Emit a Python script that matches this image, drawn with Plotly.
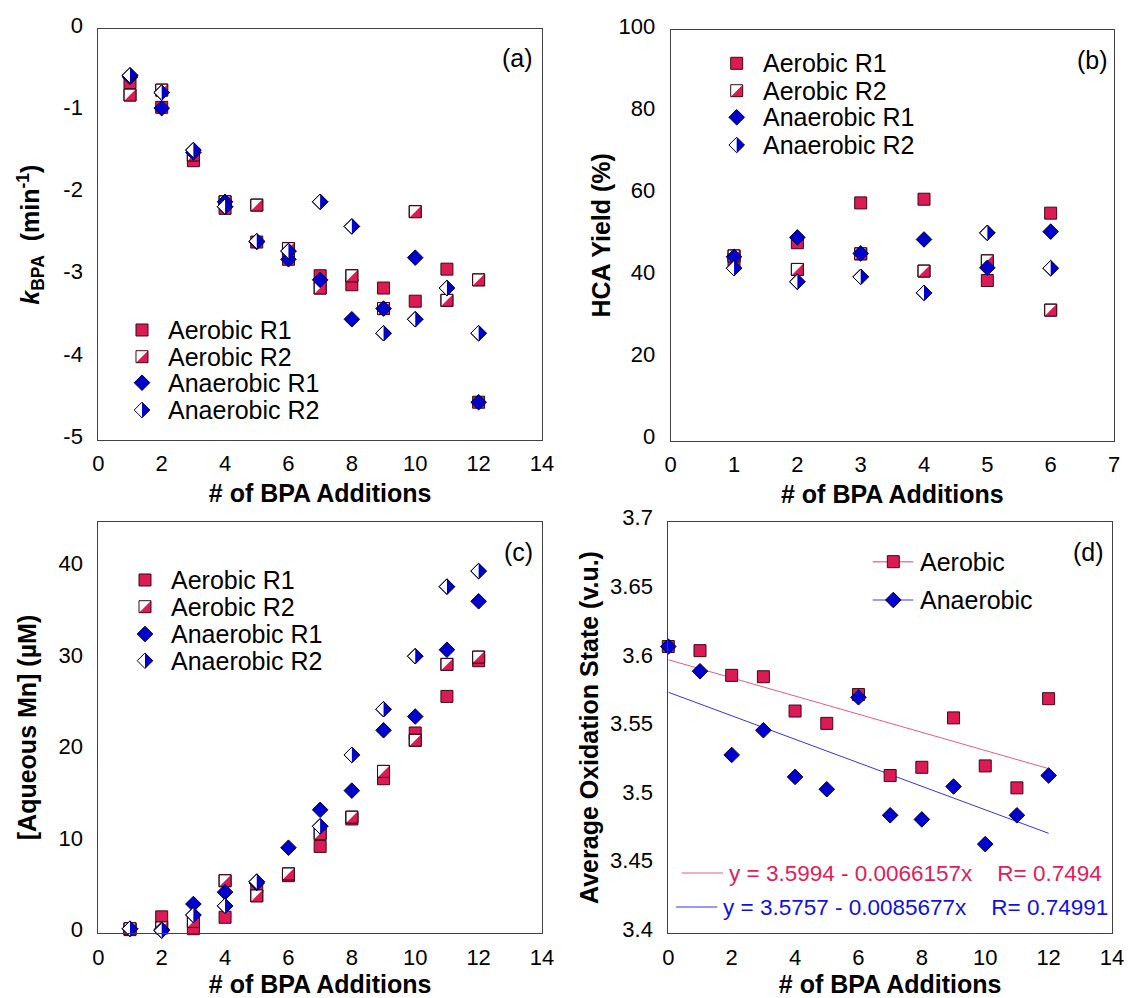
import numpy as np
import plotly.graph_objects as go

W, H = 1128, 998

# ---------------- data ----------------
additions = list(range(1, 13))
additions_hca = list(range(1, 7))
additions_aos = list(range(0, 13))

# (a) BPA rate constants
k_aer_r1 = [-0.65, -0.95, -1.60, -2.18, -2.59, -2.80, -3.00, -3.11, -3.15, -3.31, -2.92, -4.54]
k_aer_r2 = [-0.80, -0.74, -1.53, -2.10, -2.14, -2.67, -3.15, -3.00, -3.40, -2.22, -3.30, -3.05]
k_ana_r1 = [-0.58, -0.96, -1.50, -2.10, -2.59, -2.80, -3.05, -3.53, -3.40, -2.78, None, -4.54]
k_ana_r2 = [-0.56, -0.77, -1.47, -2.16, -2.58, -2.70, -2.10, -2.40, -3.70, -3.53, -3.15, -3.70]

# (b) HCA yield (%)
hca_aer_r1 = [44.0, 48.2, 57.9, 58.8, 39.0, 55.4]
hca_aer_r2 = [45.0, 41.7, 45.5, 41.3, 43.8, 31.8]
hca_ana_r1 = [44.8, 49.5, 45.6, 49.0, 42.1, 50.9]
hca_ana_r2 = [42.0, 38.7, 39.9, 36.0, 50.6, 42.0]

# (c) aqueous Mn (uM)
mn_aer_r1 = [0.4, 1.8, 0.5, 1.75, 5.1, 6.3, 9.5, 12.5, 16.9, 21.9, 25.9, 29.8]
mn_aer_r2 = [0.5, 0.6, 1.3, 5.75, 4.1, 6.5, 10.9, 12.7, 17.7, 21.1, 29.4, 30.2]
mn_ana_r1 = [0.5, 0.4, 3.2, 4.5, 5.5, 9.36, 13.5, 15.6, 22.2, 23.7, 31.0, 36.3]
mn_ana_r2 = [0.5, 0.3, 2.0, 3.0, 5.65, None, 11.7, 19.5, 24.5, 30.3, 37.9, 39.6]

# (d) average Mn oxidation state
aos_aer = [3.609, 3.606, 3.588, 3.587, 3.562, 3.553, 3.574, 3.515, 3.521, 3.557, 3.522, 3.506, 3.571]
aos_ana = [3.609, 3.591, 3.530, 3.548, 3.514, 3.505, 3.572, 3.486, 3.483, 3.507, 3.465, 3.486, 3.515]

# linear fits: intercept, slope, R
fit_aer = (3.5994, -0.0066157, 0.7494)
fit_ana = (3.5757, -0.0085677, 0.74991)

series_names = ["Aerobic R1", "Aerobic R2", "Anaerobic R1", "Anaerobic R2"]
aos_names = ["Aerobic", "Anaerobic"]

# tick labels
ticks_x14 = [0, 2, 4, 6, 8, 10, 12, 14]
ticks_x7 = [0, 1, 2, 3, 4, 5, 6, 7]
ticks_k = [0, -1, -2, -3, -4, -5]
ticks_hca = [0, 20, 40, 60, 80, 100]
ticks_mn = [0, 10, 20, 30, 40]
ticks_aos = [3.4, 3.45, 3.5, 3.55, 3.6, 3.65, 3.7]
ticks_aos_text = ["3.4", "3.45", "3.5", "3.55", "3.6", "3.65", "3.7"]

# ---------------- style ----------------
FONT = "Liberation Sans, Arial, sans-serif"
CRIMSON = "#DC1A55"
BLUE = "#0000CC"
SQ_EDGE = "#3A0A16"
DI_EDGE = "#000040"
FRAME = "#404040"
FIT_AER = "#EA5A82"
FIT_ANA = "#3434E8"
SQ = 12          # square marker size (px)
DI = 12          # diamond marker size (px)

# panel boxes in pixels: (left, right), (top, bottom)
panels = [
    dict(xpx=(98.3, 542.0), ypx=(29.3, 440.0), xr=[0, 14], yr=[-5, 0],
         xt=ticks_x14, yt=ticks_k, ytext=[str(v) for v in ticks_k], ystand=16,
         ytitle="<b><i>k</i><sub>BPA</sub>\u00a0\u00a0(min<sup>-1</sup>)</b>"),
    dict(xpx=(670.7, 1114.0), ypx=(30.0, 440.7), xr=[0, 7], yr=[0, 100],
         xt=ticks_x7, yt=ticks_hca, ytext=[str(v) for v in ticks_hca], ystand=0,
         ytitle="<b>HCA Yield (%)</b>"),
    dict(xpx=(98.3, 542.0), ypx=(521.7, 933.3), xr=[0, 14], yr=[0, 45],
         xt=ticks_x14, yt=ticks_mn, ytext=[str(v) for v in ticks_mn], ystand=14,
         ytitle="<b>[Aqueous Mn] (µM)</b>"),
    dict(xpx=(668.3, 1112.0), ypx=(521.7, 933.3), xr=[0, 14], yr=[3.4, 3.7],
         xt=ticks_x14, yt=ticks_aos, ytext=ticks_aos_text, ystand=4,
         ytitle="<b>Average Oxidation State (v.u.)</b>"),
]

fig = go.Figure()
layout = dict(
    template="none",
    width=W, height=H, margin=dict(l=0, r=0, t=0, b=0, pad=0),
    paper_bgcolor="white", plot_bgcolor="white", showlegend=False,
    font=dict(family=FONT, color="black"),
)

for i, p in enumerate(panels):
    n = "" if i == 0 else str(i + 1)
    p["xa"], p["ya"] = "x" + n, "y" + n
    p["ux"] = (p["xpx"][1] - p["xpx"][0]) / (p["xr"][1] - p["xr"][0])
    p["uy"] = (p["ypx"][1] - p["ypx"][0]) / (p["yr"][1] - p["yr"][0])
    common = dict(showline=True, mirror=True, linecolor=FRAME, linewidth=1,
                  showgrid=False, zeroline=False, ticks="", automargin=False,
                  tickfont=dict(family=FONT, size=22, color="black"))
    layout["xaxis" + n] = dict(
        domain=[p["xpx"][0] / W, p["xpx"][1] / W], anchor=p["ya"], range=p["xr"],
        tickmode="array", tickvals=p["xt"], ticktext=[str(v) for v in p["xt"]],
        ticklabelstandoff=4,
        title=dict(text="<b># of BPA Additions</b>", font=dict(size=25), standoff=9),
        **common)
    layout["yaxis" + n] = dict(
        domain=[1 - p["ypx"][1] / H, 1 - p["ypx"][0] / H], anchor=p["xa"], range=p["yr"],
        tickmode="array", tickvals=p["yt"], ticktext=p["ytext"],
        ticklabelstandoff=10, ticklabelshift=-4,
        title=dict(text=p["ytitle"], font=dict(size=25), standoff=p["ystand"]),
        **common)


def scatter(p, xs, ys, **marker):
    fig.add_trace(go.Scatter(x=xs, y=ys, mode="markers", marker=marker,
                             xaxis=p["xa"], yaxis=p["ya"], cliponaxis=False,
                             hoverinfo="skip"))


def solid_squares(p, xs, ys):
    scatter(p, xs, ys, symbol="square", size=SQ, color=CRIMSON,
            line=dict(color=SQ_EDGE, width=1))


def solid_diamonds(p, xs, ys):
    scatter(p, xs, ys, symbol="diamond", size=DI, color=BLUE,
            line=dict(color=DI_EDGE, width=1))


def half_squares(p, xs, ys):
    # white square, crimson lower-right triangle, outline on top
    xs = np.asarray(xs, float)
    ys = np.array([np.nan if v is None else v for v in ys], float)
    scatter(p, xs, ys, symbol="square", size=SQ, color="white",
            line=dict(color=SQ_EDGE, width=1))
    off = SQ / 6.0
    scatter(p, xs + off / p["ux"], ys - off / p["uy"], symbol="triangle-se",
            size=SQ / 0.9, color=CRIMSON, line=dict(width=0))
    scatter(p, xs, ys, symbol="square-open", size=SQ, color=SQ_EDGE,
            line=dict(color=SQ_EDGE, width=1))


def half_diamonds(p, xs, ys):
    # white diamond, blue right half, outline on top
    xs = np.asarray(xs, float)
    ys = np.array([np.nan if v is None else v for v in ys], float)
    scatter(p, xs, ys, symbol="diamond", size=DI, color="white",
            line=dict(color=DI_EDGE, width=1))
    rd = 0.65 * DI
    scatter(p, xs + (rd / 3.0) / p["ux"], ys, symbol="triangle-ne", angle=45,
            size=rd * np.sqrt(2) / 0.9, color=BLUE, line=dict(width=0))
    scatter(p, xs, ys, symbol="diamond-open", size=DI, color=DI_EDGE,
            line=dict(color=DI_EDGE, width=1))


pa, pb, pc, pd = panels

for p, xs, r1a, r2a, r1n, r2n in [
    (pa, additions, k_aer_r1, k_aer_r2, k_ana_r1, k_ana_r2),
    (pb, additions_hca, hca_aer_r1, hca_aer_r2, hca_ana_r1, hca_ana_r2),
    (pc, additions, mn_aer_r1, mn_aer_r2, mn_ana_r1, mn_ana_r2),
]:
    solid_squares(p, xs, r1a)
    half_squares(p, xs, r2a)
    solid_diamonds(p, xs, r1n)
    half_diamonds(p, xs, r2n)

# (d) fit lines then points
xfit = np.array(additions_aos, float)
for (b0, b1, _), col in [(fit_aer, FIT_AER), (fit_ana, FIT_ANA)]:
    fig.add_trace(go.Scatter(x=xfit, y=b0 + b1 * xfit, mode="lines",
                             line=dict(color=col, width=1), xaxis=pd["xa"], yaxis=pd["ya"],
                             hoverinfo="skip"))
solid_squares(pd, additions_aos, aos_aer)
solid_diamonds(pd, additions_aos, aos_ana)

# ---------------- legends and labels (page pixels) ----------------
shapes, annotations = [], []


def P(x, y):
    return x / W, 1 - y / H


def poly(pts, fill, line_col=None, lw=0):
    d = "M" + "L".join("%.6f,%.6f" % P(x, y) for x, y in pts) + "Z"
    shapes.append(dict(type="path", xref="paper", yref="paper", path=d,
                       fillcolor=fill, layer="above",
                       line=dict(color=line_col or fill, width=lw)))


def sq_pts(cx, cy, s):
    h = s / 2
    return [(cx - h, cy - h), (cx + h, cy - h), (cx + h, cy + h), (cx - h, cy + h)]


def dia_pts(cx, cy, r):
    return [(cx, cy - r), (cx + r, cy), (cx, cy + r), (cx - r, cy)]


def key_symbol(kind, cx, cy):
    h = SQ / 2
    r = 0.65 * DI
    if kind == 0:
        poly(sq_pts(cx, cy, SQ), CRIMSON, SQ_EDGE, 1)
    elif kind == 1:
        poly(sq_pts(cx, cy, SQ), "white")
        poly([(cx + h, cy - h), (cx + h, cy + h), (cx - h, cy + h)], CRIMSON)
        poly(sq_pts(cx, cy, SQ), "rgba(0,0,0,0)", SQ_EDGE, 1)
    elif kind == 2:
        poly(dia_pts(cx, cy, r), BLUE, DI_EDGE, 1)
    else:
        poly(dia_pts(cx, cy, r), "white")
        poly([(cx, cy - r), (cx + r, cy), (cx, cy + r)], BLUE)
        poly(dia_pts(cx, cy, r), "rgba(0,0,0,0)", DI_EDGE, 1)


def text(x, y, s, size=24, color="black", anchor="left"):
    px, py = P(x, y)
    annotations.append(dict(x=px, y=py, xref="paper", yref="paper", text=s,
                            showarrow=False, xanchor=anchor, yanchor="middle",
                            borderpad=0, font=dict(family=FONT, size=size, color=color)))


legend_boxes = [
    (142.0, 167.0, [330.0, 356.7, 382.7, 410.0]),
    (736.7, 762.0, [63.3, 90.7, 117.3, 145.0]),
    (145.0, 170.0, [580.0, 606.7, 634.0, 660.7]),
]
for sx, tx, rows in legend_boxes:
    for k, (name, yy) in enumerate(zip(series_names, rows)):
        key_symbol(k, sx, yy)
        text(tx, yy, name, size=25)

# (d) key: line with marker
for k, (name, yy, col) in enumerate(zip(aos_names, [561.7, 600.0], ["#F07C9E", "#7C7CF0"])):
    x0, y0 = P(872.7, yy)
    x1, _ = P(913.3, yy)
    shapes.append(dict(type="line", xref="paper", yref="paper", x0=x0, x1=x1, y0=y0, y1=y0,
                       line=dict(color=col, width=1.5), layer="above"))
    key_symbol(0 if k == 0 else 2, 893.3, yy)
    text(919.0, yy, name, size=25)

# (d) fit equations
nb = "\u00a0"
for (b0, b1, rr), yy, lx0, lx1, col, tcol in [
    (fit_aer, 873.0, 681.7, 723.0, FIT_AER, "#E0205A"),
    (fit_ana, 907.0, 676.0, 717.3, FIT_ANA, "#1010E0"),
]:
    x0, y0 = P(lx0, yy)
    x1, _ = P(lx1, yy)
    shapes.append(dict(type="line", xref="paper", yref="paper", x0=x0, x1=x1, y0=y0, y1=y0,
                       line=dict(color=col, width=1), layer="above"))
    eq = "y = %g - %gx%sR= %g" % (b0, -b1, nb * 4, rr)
    text(lx1 + 5.0, yy, eq, size=22.5, color=tcol)

# panel letters
for lab, x, y in [("(a)", 517, 58), ("(b)", 1092, 60), ("(c)", 518, 552), ("(d)", 1088, 552)]:
    text(x, y, lab, size=25, anchor="center")

layout["shapes"] = shapes
layout["annotations"] = annotations
fig.update_layout(**layout)
fig.write_html("out.html")
